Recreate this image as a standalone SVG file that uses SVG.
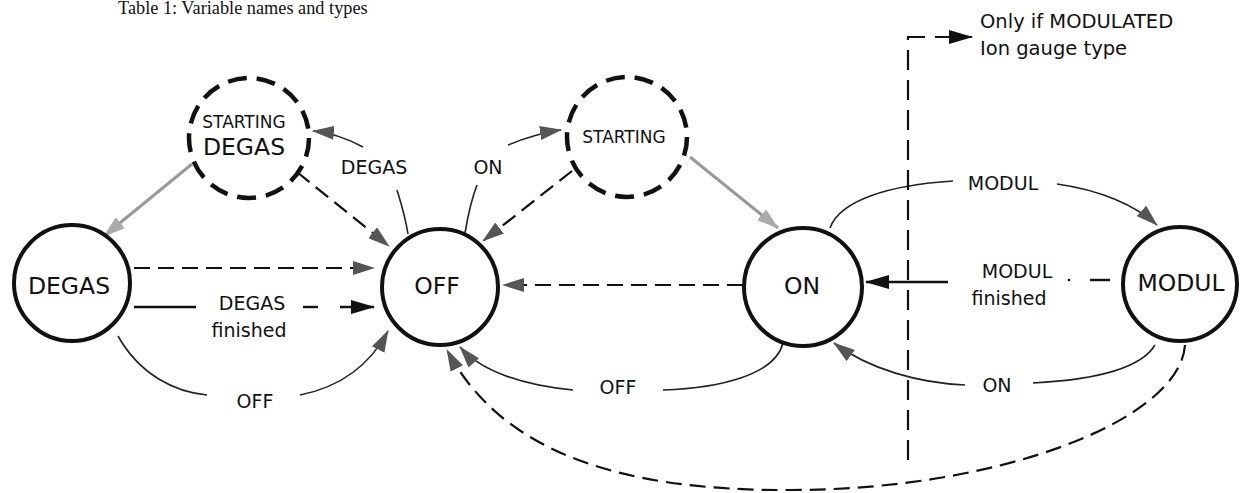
<svg xmlns="http://www.w3.org/2000/svg" width="1242" height="493" viewBox="0 0 1242 493">
<style>
.node{fill:#fff;stroke:#111;stroke-width:4}
.dnode{fill:#fff;stroke:#111;stroke-width:4.5;stroke-dasharray:19 10}
.nl{font-family:"DejaVu Sans",sans-serif;font-size:23.5px;fill:#111;text-anchor:middle}
.sl{font-family:"DejaVu Sans",sans-serif;font-size:17px;fill:#111;text-anchor:middle}
.el{font-family:"DejaVu Sans",sans-serif;font-size:19px;fill:#111;text-anchor:middle}
.c{fill:none;stroke:#222;stroke-width:1.6}
.d{fill:none;stroke:#111;stroke-width:2.2;stroke-dasharray:16 8}
.g{fill:none;stroke:#999;stroke-width:3}
.s{fill:none;stroke:#111;stroke-width:2.4}
</style>
<defs>
<marker id="ah" viewBox="0 0 22 14" refX="21" refY="7" markerWidth="22" markerHeight="14" markerUnits="userSpaceOnUse" orient="auto"><path d="M0,0 L22,7 L0,14 z" fill="#555"/></marker>
<marker id="ag" viewBox="0 0 22 14" refX="21" refY="7" markerWidth="22" markerHeight="14" markerUnits="userSpaceOnUse" orient="auto"><path d="M0,0 L22,7 L0,14 z" fill="#aaa"/></marker>
<marker id="ab" viewBox="0 0 24 14" refX="23" refY="7" markerWidth="24" markerHeight="14" markerUnits="userSpaceOnUse" orient="auto"><path d="M0,0 L24,7 L0,14 z" fill="#111"/></marker>
</defs>
<text x="118" y="14" font-family="Liberation Serif, serif" font-size="18.3" fill="#111">Table 1: Variable names and types</text>
<g id="connectors">
<path class="g" d="M192,164 L104,236" marker-end="url(#ag)"/>
<path class="d" d="M297,172 L389,246" marker-end="url(#ah)"/>
<path class="d" d="M134,268 L374,268" marker-end="url(#ah)"/>
<path class="s" d="M134,307 L196,307"/>
<path class="s" d="M303,307 L318,307"/>
<path class="s" d="M340,307 L374,307" marker-end="url(#ab)"/>
<path class="c" d="M118,336 C140,375 175,392 207,395"/>
<path class="c" d="M300,395 C340,387 370,365 388,331" marker-end="url(#ah)"/>
<path class="c" d="M408,234 C405,215 400,200 397,190"/>
<path class="c" d="M363,147 C350,140 335,133 313,131" marker-end="url(#ah)"/>
<path class="c" d="M465,233 C468,215 472,198 477,185"/>
<path class="c" d="M508,145 C525,138 540,133 561,130" marker-end="url(#ah)"/>
<path class="d" d="M572,171 L483,241" marker-end="url(#ah)"/>
<path class="g" d="M690,157 L778,228" marker-end="url(#ag)"/>
<path class="d" d="M743,285 L503,285" marker-end="url(#ah)"/>
<path class="c" d="M783,343 C775,375 720,388 663,390"/>
<path class="c" d="M573,390 C520,385 480,370 460,347" marker-end="url(#ah)"/>
<path class="c" d="M830,228 C840,200 890,185 953,181"/>
<path class="c" d="M1057,184 C1100,190 1135,205 1157,225" marker-end="url(#ah)"/>
<path class="s" d="M1110,280 L1090,280"/>
<circle cx="1069" cy="280" r="1.3" fill="#111"/>
<path class="s" d="M948,282 L866,282" marker-end="url(#ab)"/>
<path class="c" d="M1155,345 C1140,370 1090,380 1033,383"/>
<path class="c" d="M965,385 C920,383 870,370 834,343" marker-end="url(#ah)"/>
<path class="d" d="M1185,345 C1180,420 1000,490 790,490 C615,491 500,450 447,350" marker-end="url(#ah)"/>
<path class="d" d="M908,460 L908,37 L972,37" style="stroke-dasharray:20 10" marker-end="url(#ab)"/>
</g>
<g id="n-startdegas"><circle class="dnode" cx="249" cy="138" r="60"/><text class="sl" x="244" y="128">STARTING</text><text class="nl" x="244" y="155">DEGAS</text></g>
<g id="n-starting"><circle class="dnode" cx="627" cy="137" r="60"/><text class="sl" x="624" y="143">STARTING</text></g>
<g id="n-degas"><circle class="node" cx="72" cy="283" r="58"/><text class="nl" x="69" y="294">DEGAS</text></g>
<g id="n-off"><circle class="node" cx="440" cy="287" r="58"/><text class="nl" x="437" y="294">OFF</text></g>
<g id="n-on"><circle class="node" cx="803" cy="287" r="59"/><text class="nl" x="802" y="294">ON</text></g>
<g id="n-modul"><circle class="node" cx="1180" cy="284" r="57"/><text class="nl" x="1181" y="291">MODUL</text></g>
<g id="labels">
<text class="el" x="374" y="174">DEGAS</text>
<text class="el" x="488" y="174">ON</text>
<text class="el" x="252" y="310">DEGAS</text>
<text class="el" x="249" y="337">finished</text>
<text class="el" x="255" y="408">OFF</text>
<text class="el" x="618" y="394">OFF</text>
<text class="el" x="997" y="392">ON</text>
<text class="el" x="1003" y="190">MODUL</text>
<text class="el" x="1017" y="278">MODUL</text>
<text class="el" x="1009" y="305">finished</text>
<text x="980" y="28" font-family="DejaVu Sans, sans-serif" font-size="19.5" fill="#111">Only if MODULATED</text>
<text x="980" y="55" font-family="DejaVu Sans, sans-serif" font-size="19.5" fill="#111">Ion gauge type</text>
</g>
</svg>
